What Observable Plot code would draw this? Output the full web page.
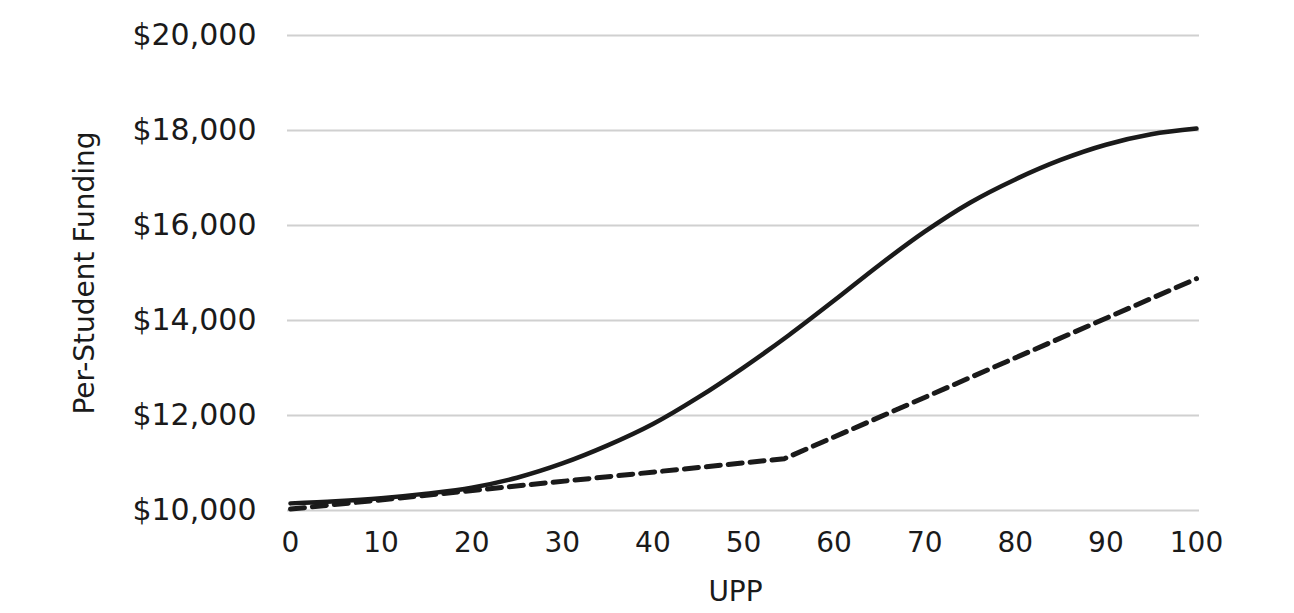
<!DOCTYPE html>
<html>
<head>
<meta charset="utf-8">
<script src="https://cdn.jsdelivr.net/npm/d3@7"></script>
<script src="https://cdn.jsdelivr.net/npm/@observablehq/plot@0.6"></script>
<style>
  html, body { margin: 0; padding: 0; background: #fff; }
  #chart svg { display: block; }
</style>
</head>
<body>
<div id="chart"></div>
<script>
// Solid series (smooth curve)
const solidUpp = [0, 5, 10, 15, 20, 25, 30, 35, 40, 45, 50, 55, 60, 65, 70, 75, 80, 85, 90, 95, 100];
const solidFunding = [10150, 10195, 10260, 10355, 10480, 10690, 10990, 11370, 11820, 12380, 13010, 13690, 14420, 15170, 15870, 16480, 16970, 17380, 17700, 17920, 18040];
// Dashed series (piecewise linear)
const dashedUpp = [0, 54.5, 100];
const dashedFunding = [10030, 11090, 14880];
// Ticks
const xTicks = [0, 10, 20, 30, 40, 50, 60, 70, 80, 90, 100];
const yTicks = [10000, 12000, 14000, 16000, 18000, 20000];
const xLabel = "UPP";
const yLabel = "Per-Student Funding";

const solid = solidUpp.map((u, i) => ({upp: u, funding: solidFunding[i]}));
const dashed = dashedUpp.map((u, i) => ({upp: u, funding: dashedFunding[i]}));

const font = "'DejaVu Sans', sans-serif";

const chart = Plot.plot({
  width: 1294,
  height: 613,
  marginLeft: 290,
  marginRight: 98,
  marginTop: 35,
  marginBottom: 103,
  style: {fontFamily: font, color: "#1a1a1a", background: "#fff", overflow: "visible"},
  x: {domain: [0, 100]},
  y: {domain: [10000, 20000]},
  marks: [
    Plot.ruleY(yTicks, {stroke: "#d0d0d0", strokeWidth: 2, insetLeft: -3, insetRight: -3}),
    Plot.axisY({ticks: yTicks, tickSize: 0, tickPadding: 34, tickFormat: d3.format("$,"), fontSize: 30, label: null, fill: "#1a1a1a"}),
    Plot.axisX({ticks: xTicks, tickSize: 0, tickPadding: 22, fontSize: 28, label: null, fill: "#1a1a1a"}),
    Plot.text([xLabel], {frameAnchor: "bottom", dx: -8, dy: 82, fontSize: 28, fill: "#1a1a1a", lineAnchor: "middle", textAnchor: "middle"}),
    Plot.text([yLabel], {frameAnchor: "left", dx: -205, rotate: -90, fontSize: 28, fill: "#1a1a1a", lineAnchor: "middle", textAnchor: "middle"}),
    Plot.line(dashed, {x: "upp", y: "funding", stroke: "#1a1a1a", strokeWidth: 5, strokeDasharray: "14,8", strokeLinecap: "round"}),
    Plot.line(solid, {x: "upp", y: "funding", stroke: "#1a1a1a", strokeWidth: 4.5, curve: "catmull-rom", strokeLinecap: "round"})
  ]
});
document.getElementById("chart").appendChild(chart);
</script>
</body>
</html>
